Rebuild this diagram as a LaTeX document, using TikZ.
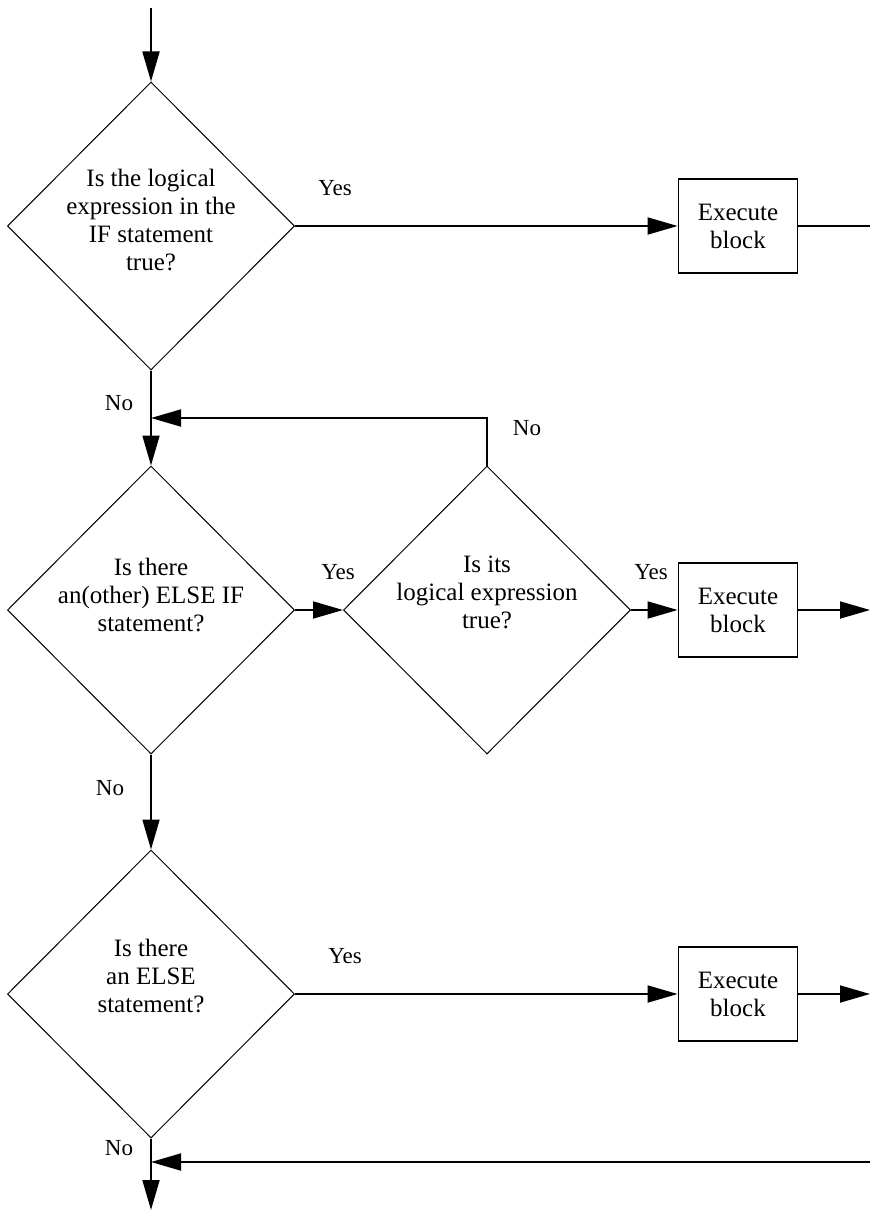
\documentclass[tikz,border=0pt]{standalone}
\usepackage{fontspec}
\setmainfont{Liberation Serif}
\usetikzlibrary{shapes.geometric,arrows.meta}
\tikzset{
  dia/.style={draw, line width=1pt, shape=diamond, inner sep=0pt, minimum width=287pt, minimum height=288pt},
  dtext/.style={align=center, font=\fontsize{25}{28}\selectfont, inner sep=0pt},
  blockbox/.style={draw, line width=1.8pt, minimum width=119pt, minimum height=94pt, inner sep=0pt, align=center, font=\fontsize{25}{28}\selectfont},
  lbl/.style={font=\fontsize{23}{26}\selectfont, inner sep=0pt},
  conn/.style={line width=1.8pt},
  arr/.style={conn, -{Triangle[length=30pt,width=17pt]}},
}
\begin{document}
\begin{tikzpicture}[x=1pt,y=-1pt]
\useasboundingbox (0,0) rectangle (870,1212);
% diamonds
\node[dia] (d1) at (151,226) {};
\node[dtext] (t1) at (151,220) {Is the logical\\expression in the\\IF statement\\true?};
\node[dia] (d2) at (151,610) {};
\node[dtext] (t2) at (151,595) {Is there\\an(other) ELSE IF\\statement?};
\node[dia] (d3) at (487,610) {};
\node[dtext] (t3) at (487,592) {Is its\\logical expression\\true?};
\node[dia] (d4) at (151,994) {};
\node[dtext] (t4) at (151,976) {Is there\\an ELSE\\statement?};
% boxes
\node[blockbox] (b1) at (738,226) {Execute\\block};
\node[blockbox] (b2) at (738,610) {Execute\\block};
\node[blockbox] (b3) at (738,994) {Execute\\block};
% coordinates
\coordinate (start) at (151,8);
\coordinate (o1) at (870,226);
\coordinate (o2) at (870,610);
\coordinate (o3) at (870,994);
\coordinate (fb) at (487,418);
\coordinate (fbend) at (151,418);
\coordinate (ret) at (870,1162);
\coordinate (retend) at (151,1162);
\coordinate (endp) at (151,1210);
% connectors
\draw[arr] (start) -- (d1.north);
\draw[arr] (d1.east) -- (b1.west);
\draw[conn] (b1.east) -- (o1);
\draw[arr] (d1.south) -- (d2.north);
\draw[arr] (d3.north) -- (fb) -- (fbend);
\draw[arr] (d2.east) -- (d3.west);
\draw[arr] (d3.east) -- (b2.west);
\draw[arr] (b2.east) -- (o2);
\draw[arr] (d2.south) -- (d4.north);
\draw[arr] (d4.east) -- (b3.west);
\draw[arr] (b3.east) -- (o3);
\draw[arr] (d4.south) -- (endp);
\draw[arr] (ret) -- (retend);
% labels
\node[lbl] (y1) at (335,188) {Yes};
\node[lbl] (n1) at (119,403) {No};
\node[lbl] (n2) at (527,428) {No};
\node[lbl] (y2) at (338,572) {Yes};
\node[lbl] (y3) at (651,572) {Yes};
\node[lbl] (n3) at (110,788) {No};
\node[lbl] (y4) at (345,956) {Yes};
\node[lbl] (n4) at (119,1148) {No};
\end{tikzpicture}
\end{document}
